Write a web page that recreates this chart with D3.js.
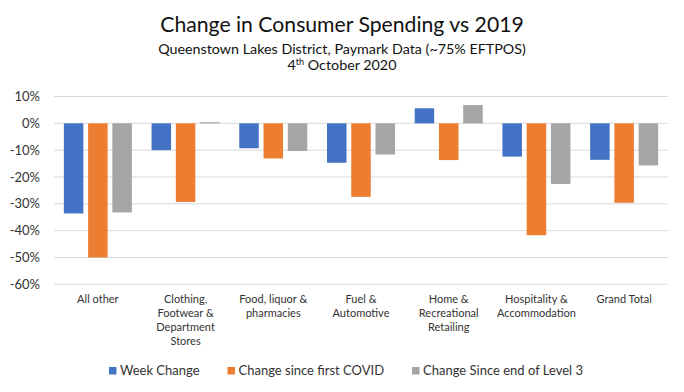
<!DOCTYPE html>
<html>
<head>
<meta charset="utf-8">
<script src="https://cdn.jsdelivr.net/npm/d3@7"></script>
<style>
  body { margin: 0; background: #fff; }
  svg { display: block; font-family: Lato, "Open Sans", sans-serif; }
</style>
</head>
<body>
<svg id="chart"></svg>
<script>
const categories = [
  "All other",
  "Clothing, Footwear & Department Stores",
  "Food, liquor & pharmacies",
  "Fuel & Automotive",
  "Home & Recreational Retailing",
  "Hospitality & Accommodation",
  "Grand Total",
];
const categoryLines = [
  ["All other"],
  ["Clothing,", "Footwear &", "Department", "Stores"],
  ["Food, liquor &", "pharmacies"],
  ["Fuel &", "Automotive"],
  ["Home &", "Recreational", "Retailing"],
  ["Hospitality &", "Accommodation"],
  ["Grand Total"],
];
const seriesNames = ["Week Change", "Change since first COVID", "Change Since end of Level 3"];
const weekChange = [-33.6, -10.0, -9.3, -14.7, 5.6, -12.4, -13.6];
const sinceFirstCovid = [-50.0, -29.3, -13.1, -27.4, -13.7, -41.7, -29.6];
const sinceLevel3 = [-33.2, 0.4, -10.3, -11.6, 6.8, -22.6, -15.7];
const yTicks = [10, 0, -10, -20, -30, -40, -50, -60];
const colors = ["#4472C4", "#ED7D31", "#A5A5A5"];

const width = 684;
const height = 392;
const plot = { left: 54, right: 668, top: 96.5, bottom: 284.3 };

const svg = d3.select("#chart").attr("width", width).attr("height", height);

// titles
svg.append("text")
  .attr("x", 342).attr("y", 32)
  .attr("text-anchor", "middle")
  .attr("font-size", 21.2)
  .attr("fill", "#111")
  .text("Change in Consumer Spending vs 2019");
svg.append("text")
  .attr("x", 342).attr("y", 54)
  .attr("text-anchor", "middle")
  .attr("font-size", 14.3)
  .attr("fill", "#111")
  .text("Queenstown Lakes District, Paymark Data (~75% EFTPOS)");
const dateLine = svg.append("text")
  .attr("x", 342).attr("y", 70)
  .attr("text-anchor", "middle")
  .attr("font-size", 14.3)
  .attr("fill", "#111");
dateLine.append("tspan").text("4");
dateLine.append("tspan").attr("font-size", 9).attr("dy", -5).text("th");
dateLine.append("tspan").attr("dy", 5).text(" October 2020");

const data = categories.map((c, i) => ({
  category: c,
  values: [weekChange[i], sinceFirstCovid[i], sinceLevel3[i]],
}));

const x0 = d3.scaleBand().domain(categories).range([plot.left, plot.right]);
const step = x0.bandwidth();
const x1 = d3.scaleBand()
  .domain(d3.range(3))
  .range([step * 0.1123, step * 0.8877])
  .paddingInner(0.196);
const y = d3.scaleLinear().domain([-60, 10]).range([plot.bottom, plot.top]);

// grid
svg.append("g")
  .selectAll("line")
  .data(yTicks)
  .join("line")
  .attr("x1", plot.left).attr("x2", plot.right)
  .attr("y1", (d) => y(d)).attr("y2", (d) => y(d))
  .attr("stroke", "#d9d9d9")
  .attr("stroke-width", 1);

// y axis labels
const yAxis = d3.axisLeft(y)
  .tickValues(yTicks)
  .tickFormat((d) => d + "%")
  .tickSize(0)
  .tickPadding(0);
svg.append("g")
  .attr("transform", `translate(40,0)`)
  .call(yAxis)
  .call((g) => g.select(".domain").remove())
  .call((g) => g.selectAll("text")
    .attr("font-family", "Lato, 'Open Sans', sans-serif")
    .attr("font-size", 13)
    .attr("fill", "#333"));

// bars
svg.append("g")
  .selectAll("g")
  .data(data)
  .join("g")
  .attr("transform", (d) => `translate(${x0(d.category)},0)`)
  .selectAll("rect")
  .data((d) => d.values)
  .join("rect")
  .attr("x", (d, i) => x1(i))
  .attr("width", x1.bandwidth())
  .attr("y", (d) => y(Math.max(0, d)))
  .attr("height", (d) => Math.abs(y(d) - y(0)))
  .attr("fill", (d, i) => colors[i]);

// x labels
svg.append("g")
  .selectAll("text")
  .data(categoryLines)
  .join("text")
  .attr("text-anchor", "middle")
  .attr("font-size", 11)
  .attr("fill", "#333")
  .attr("transform", (d, i) => `translate(${x0(categories[i]) + step / 2},303)`)
  .selectAll("tspan")
  .data((d) => d)
  .join("tspan")
  .attr("x", 0)
  .attr("y", (d, i) => i * 14)
  .text((d) => d);

// legend
const legend = svg.append("g");
const items = legend.selectAll("g")
  .data(seriesNames)
  .join("g");
items.append("rect")
  .attr("width", 7.5).attr("height", 7.5)
  .attr("y", -8)
  .attr("fill", (d, i) => colors[i]);
items.append("text")
  .attr("x", 11)
  .attr("font-size", 13)
  .attr("fill", "#333")
  .text((d) => d);
let offset = 0;
const lengths = [];
items.each(function () {
  lengths.push(d3.select(this).select("text").node().getComputedTextLength() + 11);
});
const gap = 28;
const total = d3.sum(lengths) + gap * (lengths.length - 1);
let start = width / 2 - total / 2 + 4;
items.attr("transform", (d, i) => {
  const xPos = start + offset;
  offset += lengths[i] + gap;
  return `translate(${xPos},375)`;
});
</script>
</body>
</html>
